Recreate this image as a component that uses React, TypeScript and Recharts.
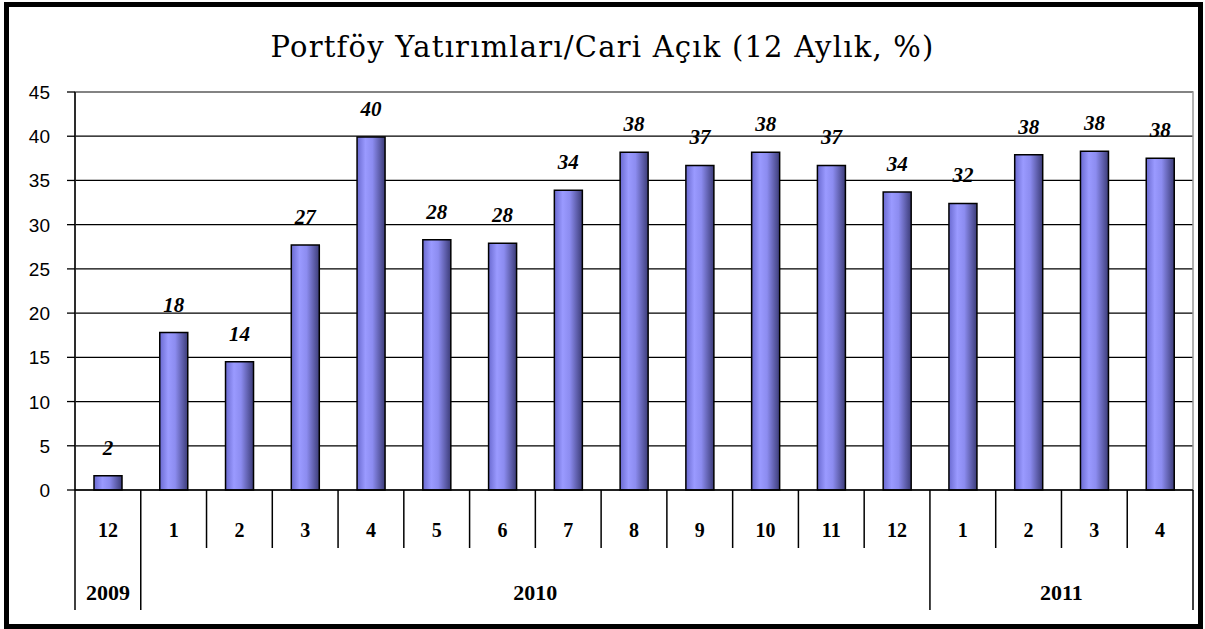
import React from "react";
import {
  BarChart,
  Bar,
  XAxis,
  YAxis,
  CartesianGrid,
  ReferenceArea,
  LabelList,
} from "recharts";

const months = ["12", "1", "2", "3", "4", "5", "6", "7", "8", "9", "10", "11", "12", "1", "2", "3", "4"];
const years = [
  "2009",
  "2010", "2010", "2010", "2010", "2010", "2010", "2010", "2010", "2010", "2010", "2010", "2010",
  "2011", "2011", "2011", "2011",
];
const ratios = [1.6, 17.8, 14.5, 27.7, 39.9, 28.3, 27.9, 33.9, 38.2, 36.7, 38.2, 36.7, 33.7, 32.4, 37.9, 38.3, 37.5];
const shownLabels = ["2", "18", "14", "27", "40", "28", "28", "34", "38", "37", "38", "37", "34", "32", "38", "38", "38"];
const yTicks = [0, 5, 10, 15, 20, 25, 30, 35, 40, 45];

const data = months.map((m, i) => ({
  key: `${years[i]}-${m}`,
  month: m,
  year: years[i],
  value: ratios[i],
  label: shownLabels[i],
}));

const serif = "'Liberation Serif', 'Times New Roman', serif";

function MonthTick(props: any) {
  const { x, y, payload, index } = props;
  const i = index ?? payload.index;
  const half = payload.offset ?? 33;
  const left = x - half;
  const row = data[i];
  const startsYear = i === 0 || data[i - 1].year !== row.year;
  let yearLabel = null;
  if (startsYear) {
    let count = 0;
    while (i + count < data.length && data[i + count].year === row.year) count++;
    yearLabel = (
      <text
        x={left + count * half}
        y={y + 110}
        textAnchor="middle"
        fontFamily={serif}
        fontWeight="bold"
        fontSize={22}
        fill="#000"
      >
        {row.year}
      </text>
    );
  }
  const isLast = i === data.length - 1;
  return (
    <g>
      <line x1={left} x2={left} y1={y} y2={y + (startsYear ? 120 : 58)} stroke="#000" strokeWidth={1.5} />
      {isLast && <line x1={x + half} x2={x + half} y1={y} y2={y + 120} stroke="#000" strokeWidth={1.5} />}
      <text x={x} y={y + 47} textAnchor="middle" fontFamily={serif} fontWeight="bold" fontSize={20} fill="#000">
        {row.month}
      </text>
      {yearLabel}
    </g>
  );
}

function ValueTick(props: any) {
  const { x, y, payload } = props;
  return (
    <text
      x={x}
      y={y}
      dy={7}
      textAnchor="end"
      fontFamily="'Liberation Sans', Arial, sans-serif"
      fontSize={19}
      fill="#000"
    >
      {payload.value}
    </text>
  );
}

function ValueLabel(props: any) {
  const { x, y, width, value } = props;
  return (
    <text
      x={x + width / 2}
      y={y - 21}
      textAnchor="middle"
      fontFamily={serif}
      fontStyle="italic"
      fontWeight="bold"
      fontSize={21}
      fill="#000"
    >
      {value}
    </text>
  );
}

export default function App() {
  return (
    <div style={{ position: "absolute", left: 0, top: 0, width: 1205, height: 629, background: "#fff" }}>
      <div
        style={{
          position: "absolute",
          left: 4,
          top: 2,
          width: 1189,
          height: 617,
          border: "5px solid #000",
        }}
      />
      <div
        style={{
          position: "absolute",
          left: 0,
          top: 30,
          width: 1205,
          textAlign: "center",
          fontFamily: "'DejaVu Serif', serif",
          fontSize: 29,
          letterSpacing: 1.2,
          color: "#000",
        }}
      >
        Portföy Yatırımları/Cari Açık (12 Aylık, %)
      </div>
      <div style={{ position: "absolute", left: 0, top: 0 }}>
        <BarChart
          width={1205}
          height={629}
          data={data}
          margin={{ top: 92, right: 12, bottom: 0, left: 0 }}
          barCategoryGap={0}
        >
          <defs>
            <linearGradient id="barFill" x1="0" y1="0" x2="1" y2="0">
              <stop offset="0%" stopColor="#6a6ad0" />
              <stop offset="30%" stopColor="#9a9aff" />
              <stop offset="55%" stopColor="#8c8cf0" />
              <stop offset="100%" stopColor="#3c3c78" />
            </linearGradient>
          </defs>
          <CartesianGrid vertical={false} stroke="#000" strokeWidth={1.3} />
          <ReferenceArea y1={0} y2={45} fill="none" stroke="#999" strokeWidth={1.5} />
          <XAxis
            dataKey="key"
            interval={0}
            height={139}
            tickSize={0}
            tickMargin={0}
            tickLine={false}
            axisLine={{ stroke: "#000", strokeWidth: 1.5 }}
            tick={<MonthTick />}
          />
          <YAxis
            width={75}
            domain={[0, 45]}
            ticks={yTicks}
            interval={0}
            tickSize={8}
            tickMargin={17}
            axisLine={{ stroke: "#000", strokeWidth: 1.5 }}
            tickLine={{ stroke: "#000", strokeWidth: 1.3 }}
            tick={<ValueTick />}
          />
          <Bar
            dataKey="value"
            barSize={28}
            fill="url(#barFill)"
            stroke="#000"
            strokeWidth={1.5}
            isAnimationActive={false}
          >
            <LabelList dataKey="label" content={<ValueLabel />} />
          </Bar>
        </BarChart>
      </div>
    </div>
  );
}
